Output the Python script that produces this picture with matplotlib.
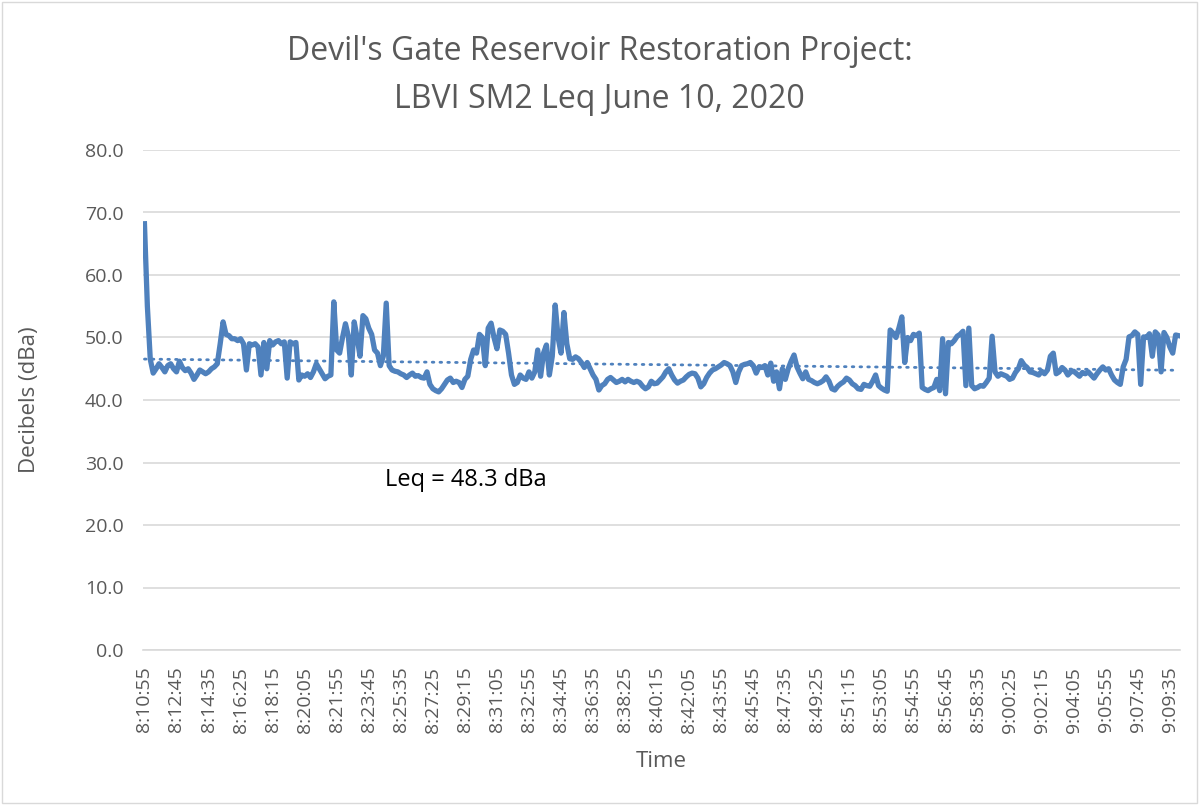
import numpy as np
import matplotlib.pyplot as plt
from matplotlib.patches import Rectangle

# Leq readings, one every 10 s starting 8:10:55
leq = [
    68.2, 55.0, 46.5, 44.3, 45.0, 45.8, 45.2, 44.5, 45.5, 45.8, 45.0,
    44.5, 46.2, 45.2, 44.7, 45.0, 44.3, 43.3, 44.0, 44.8, 44.5, 44.2,
    44.5, 45.0, 45.3, 45.8, 49.0, 52.5, 50.5, 50.3, 49.8, 49.8, 49.5,
    49.8, 49.0, 44.8, 49.0, 48.8, 49.0, 48.5, 44.0, 49.2, 45.0, 49.5,
    48.8, 49.3, 49.5, 49.0, 49.3, 43.5, 49.3, 49.0, 49.2, 43.2, 44.0,
    43.8, 44.2, 43.6, 44.5, 45.8, 45.0, 44.2, 43.4, 43.8, 44.0, 55.7,
    48.0, 47.5, 50.0, 52.2, 50.2, 44.0, 52.5, 50.0, 47.0, 53.5, 53.0,
    51.5, 50.5, 48.0, 47.5, 45.5, 47.0, 55.5, 45.5, 44.8, 44.6, 44.5,
    44.2, 44.0, 43.6, 44.0, 44.3, 43.8, 43.9, 43.6, 43.5, 44.5, 42.5,
    41.8, 41.5, 41.3, 41.8, 42.5, 43.2, 43.5, 42.8, 43.0, 42.8, 42.0,
    43.3, 43.8, 46.5, 48.0, 47.5, 50.5, 50.0, 45.5, 51.5, 52.3, 50.0,
    48.2, 51.2, 51.0, 50.5, 47.5, 44.0, 42.5, 42.8, 44.0, 43.5, 43.3,
    44.5, 43.5, 44.5, 48.0, 43.8, 47.5, 48.8, 44.0, 47.0, 55.2, 50.0,
    47.5, 54.0, 49.0, 46.6, 46.5, 46.9, 46.6, 46.0, 45.2, 46.0, 45.0,
    44.0, 43.3, 41.6, 42.3, 42.6, 43.3, 43.6, 43.2, 42.8, 43.0, 43.3,
    42.9, 43.3, 43.0, 42.8, 43.0, 42.8, 42.2, 41.8, 42.1, 43.0, 42.6,
    42.7, 43.2, 43.7, 44.5, 45.0, 44.0, 43.2, 42.7, 43.0, 43.2, 43.7,
    44.1, 44.3, 44.2, 43.5, 42.1, 42.6, 43.6, 44.3, 44.8, 45.0, 45.3,
    45.6, 46.0, 45.8, 45.5, 44.5, 42.8, 44.5, 45.5, 45.7, 45.8, 46.0,
    45.5, 44.3, 45.3, 45.2, 45.5, 44.0, 45.9, 43.0, 44.5, 41.8, 45.0,
    43.3, 45.0, 46.2, 47.2, 45.3, 44.3, 43.4, 44.5, 43.3, 43.1, 42.8,
    42.6, 42.8, 43.1, 43.7, 43.0, 41.8, 41.6, 42.2, 42.6, 42.9, 43.5,
    43.2, 42.6, 42.3, 41.8, 41.7, 42.5, 42.3, 42.2, 43.0, 44.0, 42.3,
    41.9, 41.6, 41.4, 51.2, 50.7, 50.0, 51.5, 53.3, 46.0, 50.0, 49.5,
    50.5, 50.3, 50.7, 42.0, 41.7, 41.5, 41.8, 42.0, 43.3, 41.5, 49.8,
    41.0, 49.2, 49.0, 49.5, 50.2, 50.5, 51.0, 42.3, 51.5, 42.3, 41.8,
    42.0, 42.3, 42.2, 42.8, 43.5, 50.2, 44.5, 43.8, 44.2, 44.0, 43.8,
    43.3, 43.5, 44.4, 45.0, 46.3, 45.6, 45.2, 44.5, 44.4, 44.2, 44.0,
    44.6, 44.2, 44.8, 47.0, 47.5, 44.2, 44.5, 45.2, 44.8, 44.0, 44.5,
    44.6, 44.2, 43.8, 44.4, 44.2, 44.5, 44.0, 43.5, 44.2, 44.8, 45.3,
    44.8, 45.0, 44.0, 43.2, 42.8, 42.5, 45.3, 46.5, 50.1, 50.3, 50.9,
    50.5, 42.5, 50.1, 50.0, 50.6, 47.0, 50.9, 50.4, 44.5, 50.8, 50.0,
    48.5, 47.5, 50.4, 50.3,
]

# every 11th sample is labelled
tick_labels = [
    "8:10:55", "8:12:45", "8:14:35", "8:16:25", "8:18:15", "8:20:05",
    "8:21:55", "8:23:45", "8:25:35", "8:27:25", "8:29:15", "8:31:05",
    "8:32:55", "8:34:45", "8:36:35", "8:38:25", "8:40:15", "8:42:05",
    "8:43:55", "8:45:45", "8:47:35", "8:49:25", "8:51:15", "8:53:05",
    "8:54:55", "8:56:45", "8:58:35", "9:00:25", "9:02:15", "9:04:05",
    "9:05:55", "9:07:45", "9:09:35",
]
tick_step = 11

y_ticks = [0, 10, 20, 30, 40, 50, 60, 70, 80]

blue = "#4F81BD"
grey = "#595959"

plt.rcParams['font.family'] = ['Open Sans', 'DejaVu Sans']

fig = plt.figure(figsize=(11.99, 8.05), dpi=100)
ax = fig.add_axes([143 / 1199, 1 - 650 / 805, 1037 / 1199, 500 / 805])

x = np.arange(len(leq))
ax.plot(x, leq, color=blue, linewidth=3.8, solid_joinstyle='round', zorder=3)

# linear trend line, as Excel draws it
coef = np.polyfit(x, leq, 1)
ax.plot(x, np.polyval(coef, x), color=blue, linewidth=2,
        linestyle=(0, (0.6, 2.2)), dash_capstyle='round', zorder=2)

ax.set_xlim(-0.5, len(leq) - 0.5)
ax.set_ylim(0, 80)
ax.set_yticks(y_ticks)
ax.set_yticklabels([f"{v:.1f}" for v in y_ticks])
ax.yaxis.grid(True, color="#D9D9D9", linewidth=1.2)
ax.set_axisbelow(True)

ax.set_xticks(np.arange(len(tick_labels)) * tick_step)
ax.set_xticklabels(tick_labels, rotation=90)

for s in ["top", "right", "left"]:
    ax.spines[s].set_visible(False)
ax.spines["bottom"].set_color("#D9D9D9")
ax.spines["bottom"].set_linewidth(1.2)
ax.tick_params(axis="both", length=0, labelsize=14, colors=grey)
ax.tick_params(axis="y", pad=14)
ax.tick_params(axis="x", pad=12)

ax.set_xlabel("Time", fontsize=16, color=grey, labelpad=13)
ax.set_ylabel("Decibels (dBa)", fontsize=16, color=grey, labelpad=32)

fig.text(0.5, 1 - 52 / 805, "Devil's Gate Reservoir Restoration Project:",
         ha="center", va="center", fontsize=23, color=grey)
fig.text(0.5, 1 - 99 / 805, "LBVI SM2 Leq June 10, 2020",
         ha="center", va="center", fontsize=23, color=grey)

ax.text(0.233, 27.2, "Leq = 48.3 dBa", transform=ax.get_yaxis_transform(),
        fontsize=17, color="black", va="center")

fig.patches.append(Rectangle((0.002, 0.002), 0.996, 0.996, transform=fig.transFigure,
                             fill=False, edgecolor="#D9D9D9", linewidth=1))

fig.savefig("out.png", dpi=100)
